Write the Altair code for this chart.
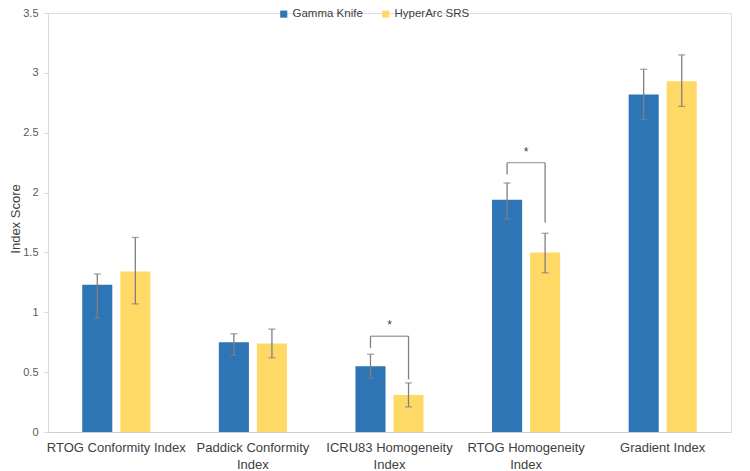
import altair as alt
import pandas as pd

categories = ["RTOG Conformity Index", "Paddick Conformity Index", "ICRU83 Homogeneity Index",
              "RTOG Homogeneity Index", "Gradient Index"]
series = ["Gamma Knife", "HyperArc SRS"]
colors = ["#2E75B6", "#FFD966"]

gk_mean = [1.23, 0.75, 0.55, 1.94, 2.82]
gk_hi = [1.32, 0.82, 0.65, 2.08, 3.03]
gk_lo = [0.95, 0.64, 0.45, 1.78, 2.61]
ha_mean = [1.34, 0.74, 0.31, 1.50, 2.93]
ha_hi = [1.625, 0.86, 0.41, 1.66, 3.15]
ha_lo = [1.07, 0.62, 0.21, 1.33, 2.72]

sig_categories = ["ICRU83 Homogeneity Index", "RTOG Homogeneity Index"]
sig_top = [0.80, 2.25]
sig_left_end = [0.70, 2.15]
sig_right_end = [0.44, 1.75]
sig_label = ["*", "*"]

y_ticks = [0, 0.5, 1, 1.5, 2, 2.5, 3, 3.5]

rows = []
for i, c in enumerate(categories):
    rows.append({"cat": c, "series": series[0], "mean": gk_mean[i], "lo": gk_lo[i], "hi": gk_hi[i]})
    rows.append({"cat": c, "series": series[1], "mean": ha_mean[i], "lo": ha_lo[i], "hi": ha_hi[i]})
df = pd.DataFrame(rows)

vrows = []
hrows = []
for i, c in enumerate(sig_categories):
    vrows.append({"cat": c, "series": series[0], "a": sig_left_end[i], "b": sig_top[i]})
    vrows.append({"cat": c, "series": series[1], "a": sig_right_end[i], "b": sig_top[i]})
    hrows.append({"cat": c, "top": sig_top[i], "label": sig_label[i]})
vdf = pd.DataFrame(vrows)
hdf = pd.DataFrame(hrows)

FONT = "Liberation Sans"
PLOT_H = 419
label_expr = ("length(datum.label) > 21 ? [substring(datum.label, 0, lastindexof(datum.label, ' ')), "
              "substring(datum.label, lastindexof(datum.label, ' ') + 1)] : datum.label")

x_enc = alt.X("cat:N", scale=alt.Scale(domain=categories, paddingInner=0, paddingOuter=0),
              axis=alt.Axis(title=None, labelAngle=0, ticks=False, tickSize=0, labelPadding=9,
                            labelFont=FONT, labelFontSize=13, labelColor="#404040",
                            labelLineHeight=17, labelExpr=label_expr, labelLimit=300,
                            domainColor="#d0d0d0", grid=False))
xo_enc = alt.XOffset("series:N", scale=alt.Scale(domain=series, paddingInner=0.21, paddingOuter=0.9))
y_scale = alt.Scale(domain=[0, 3.5], nice=False)

bars = alt.Chart(df).mark_bar().encode(
    x=x_enc,
    xOffset=xo_enc,
    y=alt.Y("mean:Q", scale=y_scale,
            axis=alt.Axis(title="Index Score", values=y_ticks, format="~g", grid=False,
                          domainColor="#d9d9d9", tickColor="#d9d9d9", tickSize=4, labelPadding=6,
                          labelFont=FONT, labelFontSize=11, labelColor="#595959",
                          titleFont=FONT, titleFontSize=13, titleFontWeight="normal",
                          titleColor="#404040", titleX=-26, titleY=PLOT_H / 2 - 4,
                          titleAngle=270, titleAlign="center", titleBaseline="bottom")),
    color=alt.Color("series:N", scale=alt.Scale(domain=series, range=colors),
                    legend=alt.Legend(title=None, orient="none", direction="horizontal",
                                      legendX=230, legendY=-5, symbolType="square",
                                      symbolSize=50, symbolStrokeWidth=0, labelFont=FONT,
                                      labelFontSize=11.5, labelColor="#404040",
                                      columnPadding=17, labelOffset=3, padding=0)),
)

err = alt.Chart(df).mark_rule(color="#7f7f7f", strokeWidth=1.3).encode(
    x="cat:N", xOffset="series:N", y="lo:Q", y2="hi:Q")
cap_hi = alt.Chart(df).mark_tick(color="#7f7f7f", thickness=1.3, size=7).encode(
    x="cat:N", xOffset="series:N", y="hi:Q")
cap_lo = alt.Chart(df).mark_tick(color="#7f7f7f", thickness=1.3, size=7).encode(
    x="cat:N", xOffset="series:N", y="lo:Q")

br_v = alt.Chart(vdf).mark_rule(color="#808080", strokeWidth=1.3).encode(
    x="cat:N", xOffset="series:N", y="a:Q", y2="b:Q")
br_h = alt.Chart(hdf).mark_tick(color="#808080", thickness=1.3, size=38).encode(
    x="cat:N", y="top:Q")
star = alt.Chart(hdf).mark_text(font=FONT, fontSize=12, color="#404040", dy=-11).encode(
    x="cat:N", y="top:Q", text="label:N")

chart = alt.layer(bars, err, cap_hi, cap_lo, br_v, br_h, star).properties(
    width=683, height=PLOT_H,
    autosize=alt.AutoSizeParams(type="none"),
    padding={"left": 40, "top": 5, "right": 11, "bottom": 40},
).configure_view(stroke=None).configure(background="white")

chart.save("out.html", embed_options={"renderer": "svg", "actions": False})
